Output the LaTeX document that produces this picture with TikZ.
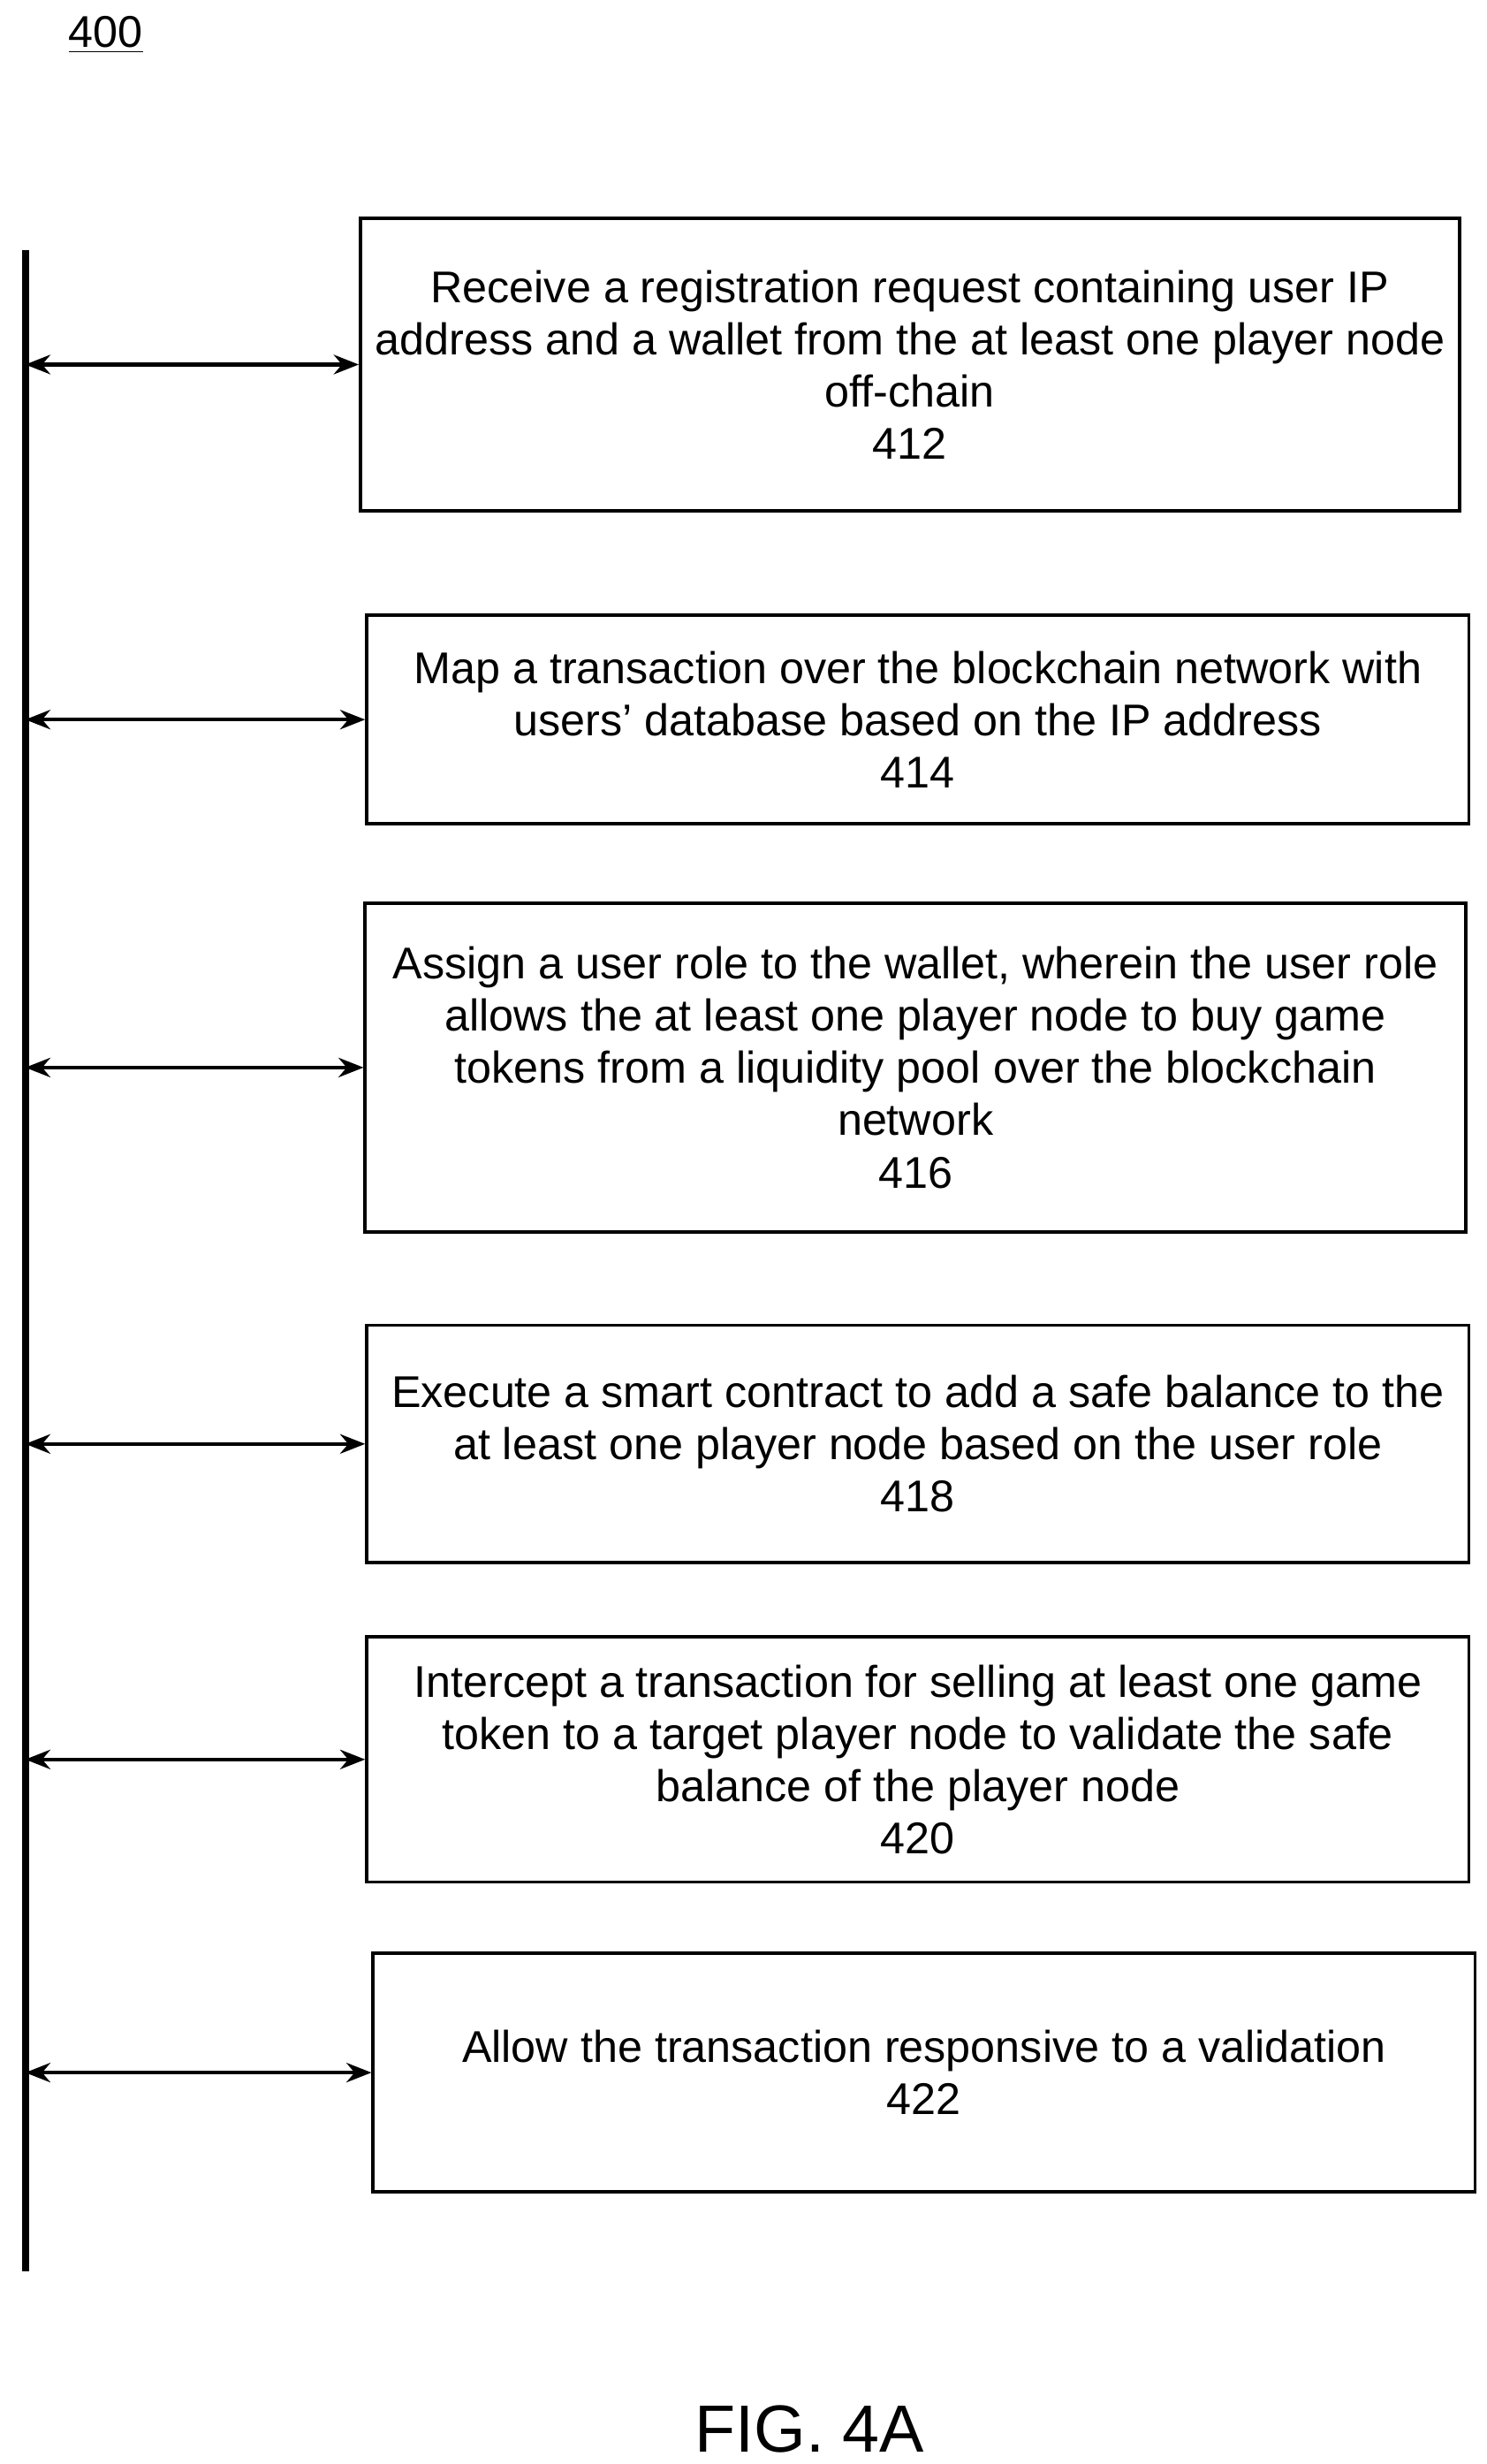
\documentclass[tikz,border=0pt]{standalone}
\usepackage{fontspec}
\setmainfont{Liberation Sans}
\usetikzlibrary{arrows.meta}

\begin{document}
\begin{tikzpicture}[
    x=0.02cm, y=-0.02cm,
    every node/.style={font=\fontsize{16}{18.8}\selectfont},
    stepbox/.style={draw, line width=1.2pt, align=center, inner sep=0pt},
    link/.style={line width=1.4pt, {Stealth[length=9pt,width=7pt]}-{Stealth[length=9pt,width=7pt]}}
]
   \useasboundingbox (0,0) rectangle (940,1558);

   % Label and caption
   \node (lbl) at (67,22) {\underline{400}};
   \node[font=\fontsize{24}{28}\selectfont] (fig) at (512,1536) {FIG. 4A};

   % Time line
   \coordinate (top) at (16,158);
   \coordinate (bot) at (16,1436);
   \draw[line width=2.6pt] (top) -- (bot);

   % Steps
   \node[stepbox, minimum width=695*0.02cm, minimum height=185*0.02cm] (s412) at (575.5,230.5)
      {Receive a registration request containing user IP\\address and a wallet from the at least one player node\\off-chain\\412};
   \node[stepbox, minimum width=697*0.02cm, minimum height=132*0.02cm] (s414) at (580.5,455)
      {Map a transaction over the blockchain network with\\users' database based on the IP address\\414};
   \node[stepbox, minimum width=696*0.02cm, minimum height=208*0.02cm] (s416) at (579,675)
      {Assign a user role to the wallet, wherein the user role\\allows the at least one player node to buy game\\tokens from a liquidity pool over the blockchain\\network\\416};
   \node[stepbox, minimum width=697*0.02cm, minimum height=150*0.02cm] (s418) at (580.5,913)
      {Execute a smart contract to add a safe balance to the\\at least one player node based on the user role\\418};
   \node[stepbox, minimum width=697*0.02cm, minimum height=155*0.02cm] (s420) at (580.5,1112.5)
      {Intercept a transaction for selling at least one game\\token to a target player node to validate the safe\\balance of the player node\\420};
   \node[stepbox, minimum width=697*0.02cm, minimum height=151*0.02cm] (s422) at (584.5,1310.5)
      {Allow the transaction responsive to a validation\\422};

   % Connectors
   \foreach \s in {s412, s414, s416, s418, s420, s422}
      \draw[link] (top |- \s.west) -- (\s.west);
\end{tikzpicture}
\end{document}
